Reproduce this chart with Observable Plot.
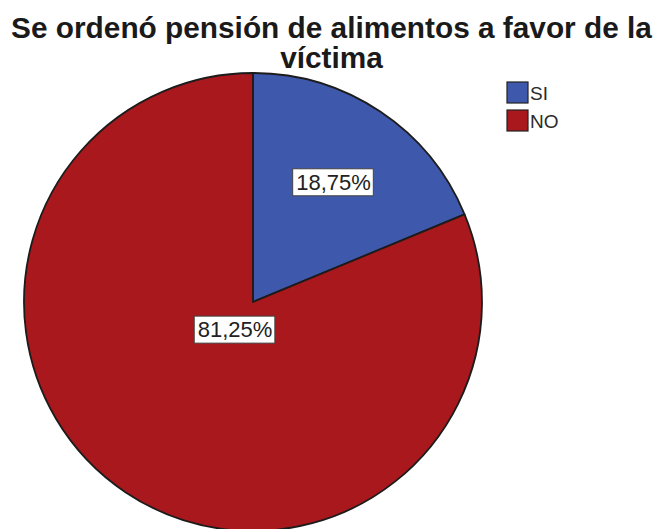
<!DOCTYPE html>
<html><head><meta charset="utf-8">
<script src="https://cdn.jsdelivr.net/npm/d3@7"></script>
<script src="https://cdn.jsdelivr.net/npm/@observablehq/plot@0.6"></script>
<style>
html,body{margin:0;padding:0;background:#fff;overflow:hidden;width:663px;height:529px}
#wrap{position:relative;width:663px;height:529px;overflow:hidden}
#chart{position:absolute;left:0;top:0}
#title{position:absolute;left:0;top:13px;width:663px;text-align:center;font-family:"Liberation Sans",Arial,sans-serif;font-weight:bold;font-size:29.8px;line-height:30px;color:#1a1a1a;white-space:nowrap}
#legend{position:absolute;left:507px;top:82px}
#legend .lg-swatches{margin:0 !important;min-height:0 !important;font-family:"Liberation Sans",Arial,sans-serif !important;font-size:19px !important;color:#2a2a2a !important}
#legend .lg-swatch{height:28px !important;padding:0 !important;margin:0 !important;display:flex;align-items:flex-start !important}
#legend .lg-swatch > svg{margin-right:2px !important;overflow:visible !important}
#legend .lg-swatch > svg rect{stroke:#222;stroke-width:1.2px}
#legend .lg-swatch-label,#legend .lg-swatch > div{line-height:24px}
</style></head><body>
<div id="wrap"><div id="chart"></div><div id="title">Se ordenó pensión de alimentos a favor de la<br>víctima</div><div id="legend"></div></div>
<script>
// ---- data ----
const answers = ["SI", "NO"];
const percents = [18.75, 81.25];
const percentLabels = ["18,75%", "81,25%"];
const sliceColors = ["#3E58AC", "#A8181C"];

const rows = answers.map((a, i) => ({answer: a, pct: percents[i], label: percentLabels[i]}));
const arcs = d3.pie().value(d => d.pct).sort(null)(rows);

// label anchor: area centroid of each sector (unit radius)
const labelRows = arcs.map(a => {
  const half = (a.endAngle - a.startAngle) / 2;
  const mid = (a.startAngle + a.endAngle) / 2;
  const d = 2 * Math.sin(half) / (3 * half);
  return {...a.data, lx: d * Math.sin(mid), ly: d * Math.cos(mid)};
});

const colorOpts = {type: "categorical", domain: answers, range: sliceColors};
const colorScale = Plot.scale({color: colorOpts});

const labelFont = '22px "Liberation Sans", Arial, sans-serif';
const ctx = document.createElement("canvas").getContext("2d");
ctx.font = labelFont;

function wedges(index, scales) {
  const cx = scales.x(0), cy = scales.y(0), r = scales.x(1) - cx;
  const g = d3.create("svg:g").attr("transform", `translate(${cx},${cy})`);
  const arc = d3.arc().innerRadius(0).outerRadius(r);
  g.selectAll("path").data(arcs).join("path")
    .attr("d", arc)
    .attr("fill", d => colorScale.apply(d.data.answer))
    .attr("stroke", "#1c1c1c")
    .attr("stroke-width", 1.8)
    .attr("stroke-linejoin", "round");
  return g.node();
}

function labelBoxes(index, scales) {
  const g = d3.create("svg:g");
  for (const d of labelRows) {
    const w = ctx.measureText(d.label).width + 6, h = 27;
    g.append("rect")
      .attr("x", scales.x(d.lx) - w / 2).attr("y", scales.y(d.ly) - h / 2)
      .attr("width", w).attr("height", h)
      .attr("fill", "#fff").attr("stroke", "#444").attr("stroke-width", 1);
  }
  return g.node();
}

const chart = Plot.plot({
  width: 663,
  height: 529,
  margin: 0,
  x: {domain: [-1, 1], range: [24, 482], axis: null},
  y: {domain: [-1, 1], range: [531, 73], axis: null},
  style: {background: "transparent", overflow: "visible"},
  marks: [
    wedges,
    labelBoxes,
    Plot.text(labelRows, {
      x: "lx", y: "ly", text: "label",
      fontSize: 22, fontFamily: "Liberation Sans, Arial, sans-serif",
      fill: "#222", textAnchor: "middle", lineAnchor: "middle"
    })
  ]
});
document.getElementById("chart").appendChild(chart);

const legend = Plot.legend({
  color: colorOpts,
  legend: "swatches",
  columns: 1,
  swatchSize: 21,
  className: "lg"
});
document.getElementById("legend").appendChild(legend);
</script>
</body></html>
